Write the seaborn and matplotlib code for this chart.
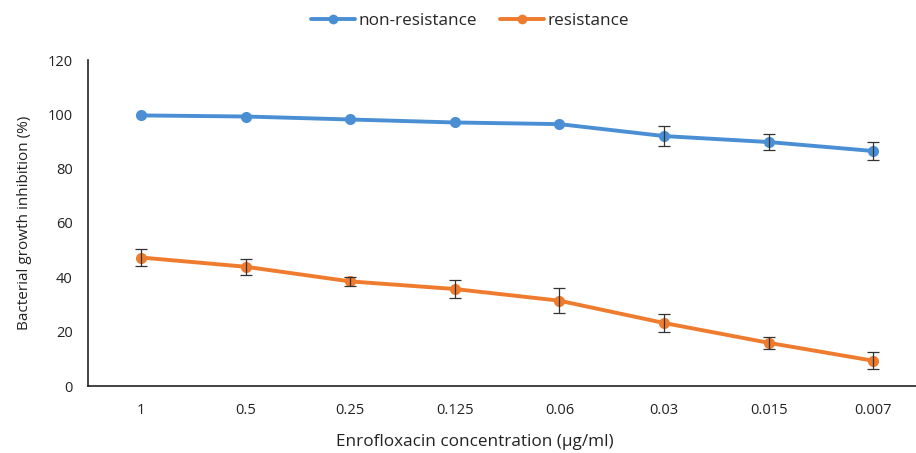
import numpy as np
import pandas as pd
import matplotlib
matplotlib.use("Agg")
import matplotlib.pyplot as plt
import seaborn as sns

# ===============================
# Data
# ===============================
concentrations = ["1", "0.5", "0.25", "0.125", "0.06", "0.03", "0.015", "0.007"]
non_resistance = [99.6, 99.2, 98.1, 97.0, 96.4, 92.0, 89.8, 86.5]
non_resistance_err = [0.0, 0.0, 0.0, 0.0, 0.0, 3.8, 2.8, 3.2]
resistance = [47.3, 43.9, 38.5, 35.7, 31.4, 23.2, 15.9, 9.3]
resistance_err = [3.3, 2.9, 1.7, 3.4, 4.6, 3.4, 2.2, 3.1]
series_names = ["non-resistance", "resistance"]
colors = ["#4A8FD4", "#EE7B2E"]

# ===============================
# Build long table
# ===============================
pos = np.arange(len(concentrations))
df = pd.DataFrame({
    "pos": np.concatenate([pos, pos]),
    "value": non_resistance + resistance,
    "err": non_resistance_err + resistance_err,
    "series": [series_names[0]] * len(pos) + [series_names[1]] * len(pos),
})

sns.set_style("white")
plt.rcParams["font.family"] = ["Open Sans", "DejaVu Sans"]

fig = plt.figure(figsize=(9.16, 4.53), dpi=100)
ax = fig.add_axes([88 / 916, 1 - 386 / 453, 828 / 916, 326 / 453])

sns.lineplot(data=df, x="pos", y="value", hue="series", palette=colors,
             marker="o", markersize=8, markeredgewidth=0, linewidth=2.8,
             ax=ax, legend=False)

for name in series_names:
    sub = df[df["series"] == name]
    sub = sub[sub["err"] > 0]
    ax.errorbar(sub["pos"], sub["value"], yerr=sub["err"], fmt="none",
                ecolor="#333333", elinewidth=0.9, capsize=4, capthick=0.9, zorder=5)

ax.set_ylim(0, 120)
ax.set_yticks(np.arange(0, 121, 20))
ax.set_xlim((88 - 141) / 104.6, (916 - 141) / 104.6)
ax.set_xticks(pos)
ax.set_xticklabels(concentrations)
ax.tick_params(axis="x", length=5, width=1, color="#222222", labelsize=10.5, pad=7, labelcolor="#222222")
ax.tick_params(axis="y", length=3, width=1, color="#222222", labelsize=10.5, pad=8, labelcolor="#222222")

for side in ["top", "right"]:
    ax.spines[side].set_visible(False)
for side in ["bottom", "left"]:
    ax.spines[side].set_color("#222222")
    ax.spines[side].set_linewidth(1.2)

ax.set_xlabel("Enrofloxacin concentration (µg/ml)", fontsize=12.3, color="#222222")
ax.xaxis.set_label_coords((475 - 88) / 828, -0.148)
ax.set_ylabel("Bacterial growth inhibition (%)", fontsize=11, color="#222222")
ax.yaxis.set_label_coords(-0.068, 0.5)

handles = [plt.Line2D([], [], color=c, marker="o", markersize=7, markeredgewidth=0, linewidth=2.8)
           for c in colors]
fig.legend(handles, series_names, loc="upper center", bbox_to_anchor=(0.513, 1.005), ncol=2,
           frameon=False, fontsize=12.3, handlelength=2.6, handletextpad=0.2, columnspacing=1.3)

fig.savefig("out.png", dpi=100)
